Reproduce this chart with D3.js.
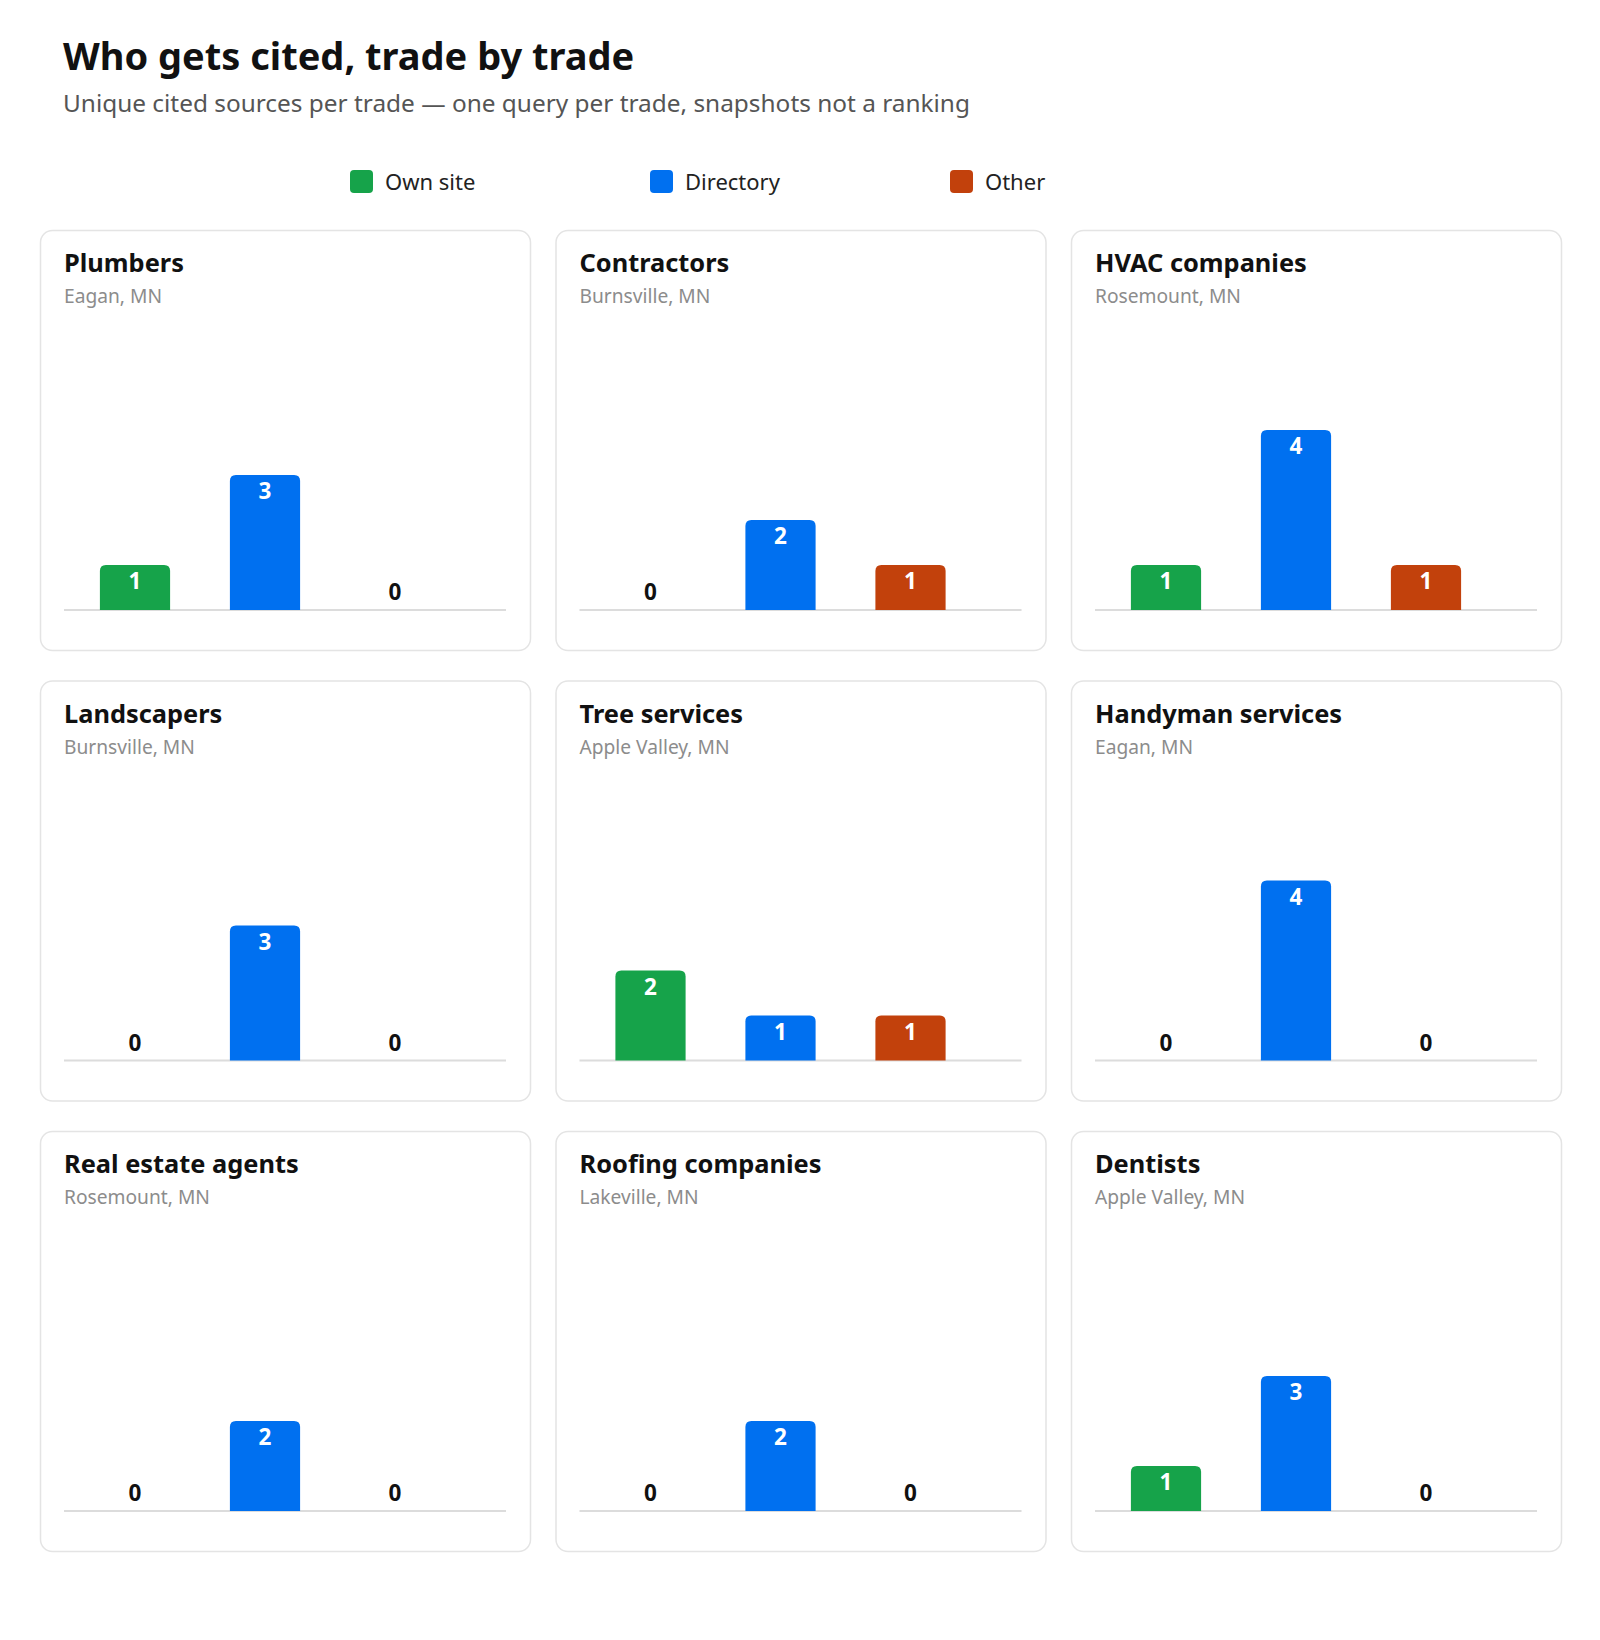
<!DOCTYPE html>
<html lang="en">
<head>
  <meta charset="UTF-8">
  <title>Who gets cited, trade by trade</title>
  <script src="https://d3js.org/d3.v7.min.js"></script>
  <style>
    body {
      margin: 0;
      background: #fff;
      font-family: "Noto Sans", "Open Sans", sans-serif;
    }
  </style>
</head>
<body>
  <div id="chart"></div>

  <script>
    // data
    const trades = ["Plumbers", "Contractors", "HVAC companies",
                    "Landscapers", "Tree services", "Handyman services",
                    "Real estate agents", "Roofing companies", "Dentists"];
    const cities = ["Eagan, MN", "Burnsville, MN", "Rosemount, MN",
                    "Burnsville, MN", "Apple Valley, MN", "Eagan, MN",
                    "Rosemount, MN", "Lakeville, MN", "Apple Valley, MN"];
    const sourceTypes = ["Own site", "Directory", "Other"];
    const ownSite   = [1, 0, 1, 0, 2, 0, 0, 0, 1];
    const directory = [3, 2, 4, 3, 1, 4, 2, 2, 3];
    const other     = [0, 1, 1, 0, 1, 0, 0, 0, 0];
    const colors = ["#16a34a", "#0070f0", "#c2410c"];

    const W = 1600, H = 1640;
    const cardW = 490, cardH = 420, cardGapX = 25.5, cardGapY = 30.5;
    const gridLeft = 40, gridTop = 230;
    const pad = 24;
    const baseY = 380;           // baseline inside card
    const plotW = cardW - 2 * pad;

    const series = [ownSite, directory, other];
    const cards = trades.map((t, i) => ({
      trade: t,
      city: cities[i],
      values: sourceTypes.map((s, k) => ({type: s, value: series[k][i]}))
    }));

    const svg = d3.select("#chart")
      .append("svg")
      .attr("width", W)
      .attr("height", H);

    svg.append("text")
      .attr("x", 63)
      .attr("y", 70)
      .style("font-size", "38px")
      .style("font-weight", "bold")
      .style("fill", "#111")
      .text("Who gets cited, trade by trade");

    svg.append("text")
      .attr("x", 63)
      .attr("y", 112)
      .style("font-size", "24.4px")
      .style("fill", "#555")
      .text("Unique cited sources per trade \u2014 one query per trade, snapshots not a ranking");

    // legend
    const color = d3.scaleOrdinal().domain(sourceTypes).range(colors);
    const legend = svg.append("g")
      .selectAll("g")
      .data(sourceTypes)
      .enter()
      .append("g")
      .attr("transform", (d, i) => `translate(${350 + i * 300}, 170)`);

    legend.append("rect")
      .attr("width", 23)
      .attr("height", 23)
      .attr("rx", 4)
      .attr("fill", d => color(d));

    legend.append("text")
      .attr("x", 35)
      .attr("y", 20)
      .style("font-size", "22px")
      .style("fill", "#222")
      .text(d => d);

    // shared scales
    const x = d3.scaleBand()
      .domain(sourceTypes)
      .range([6, 396])
      .paddingInner(0.46)
      .paddingOuter(0.23);

    const y = d3.scaleLinear()
      .domain([0, d3.max(series.flat())])
      .range([baseY, baseY - 180]);

    const r = 6;
    function topRounded(x0, y0, w, h) {
      if (h <= 0) return "";
      const rr = Math.min(r, h, w / 2);
      return `M${x0},${y0 + h}V${y0 + rr}Q${x0},${y0} ${x0 + rr},${y0}` +
             `H${x0 + w - rr}Q${x0 + w},${y0} ${x0 + w},${y0 + rr}V${y0 + h}Z`;
    }

    const card = svg.selectAll(".card")
      .data(cards)
      .enter()
      .append("g")
      .attr("class", "card")
      .attr("transform", (d, i) =>
        `translate(${gridLeft + (i % 3) * (cardW + cardGapX)}, ${gridTop + Math.floor(i / 3) * (cardH + cardGapY)})`);

    card.append("rect")
      .attr("x", 0.5)
      .attr("y", 0.5)
      .attr("width", cardW)
      .attr("height", cardH)
      .attr("rx", 12)
      .attr("fill", "#fff")
      .attr("stroke", "#e4e4e4")
      .attr("stroke-width", 1.5);

    card.append("text")
      .attr("x", pad)
      .attr("y", 42)
      .style("font-size", "25.4px")
      .style("font-weight", "bold")
      .style("fill", "#111")
      .text(d => d.trade);

    card.append("text")
      .attr("x", pad)
      .attr("y", 73)
      .style("font-size", "19.2px")
      .style("fill", "#8c8c8c")
      .text(d => d.city);

    const plot = card.append("g")
      .attr("transform", `translate(${pad}, 0)`);

    plot.append("line")
      .attr("x1", 0)
      .attr("x2", plotW)
      .attr("y1", baseY)
      .attr("y2", baseY)
      .attr("stroke", "#dcdcdc")
      .attr("stroke-width", 2);

    plot.selectAll(".bar")
      .data(d => d.values)
      .enter()
      .append("path")
      .attr("class", "bar")
      .attr("d", d => topRounded(x(d.type), y(d.value), x.bandwidth(), y(0) - y(d.value)))
      .attr("fill", d => color(d.type));

    plot.selectAll(".label")
      .data(d => d.values)
      .enter()
      .append("text")
      .attr("class", "label")
      .attr("x", d => x(d.type) + x.bandwidth() / 2)
      .attr("y", d => d.value > 0 ? y(d.value) + 24 : y(0) - 10)
      .attr("text-anchor", "middle")
      .style("font-size", "22.5px")
      .style("font-weight", "bold")
      .style("fill", d => d.value > 0 ? "#fff" : "#111")
      .text(d => d.value);
  </script>
</body>
</html>
